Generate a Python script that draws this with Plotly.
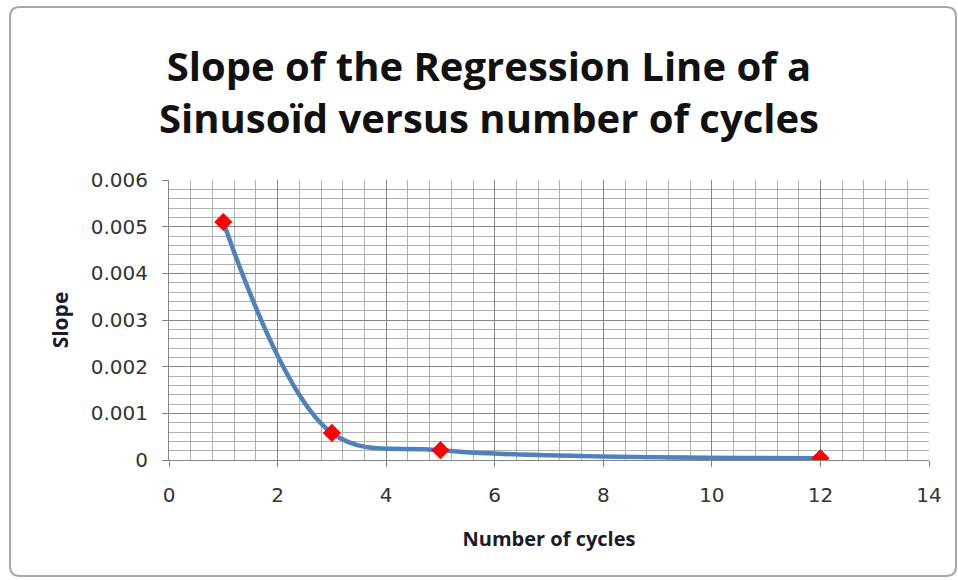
import plotly.graph_objects as go

cycles = [1, 3, 5, 12]
slopes = [0.0051, 0.00058, 0.00021, 0.00004]

title_text = "Slope of the Regression Line of a<br>Sinusoïd versus number of cycles"
x_title = "Number of cycles"
y_title = "Slope"

W, H = 958, 580
L, R, T, B = 169, 29, 180, 120
pw, ph = W - L - R, H - T - B

def px_x(p):
    return (p - L) / pw

def px_y(p):
    return (H - B - p) / ph

fig = go.Figure()
fig.add_trace(go.Scatter(
    x=cycles, y=slopes, mode="lines",
    line=dict(color="#4F81BD", width=4.5, shape="spline", smoothing=1.0),
    hoverinfo="skip", showlegend=False,
))
fig.add_trace(go.Scatter(
    x=cycles, y=slopes, mode="markers",
    marker=dict(symbol="diamond", size=14, color="#FF0000",
                line=dict(width=0)),
    showlegend=False,
))

font_family = "Open Sans, Lato, sans-serif"
tick_family = "DejaVu Sans, Open Sans, sans-serif"

fig.update_layout(
    width=W, height=H,
    margin=dict(l=L, r=R, t=T, b=B),
    paper_bgcolor="white", plot_bgcolor="white",
    title=dict(text=title_text, x=489 / W, xanchor="center",
               y=1 - 81 / H, yanchor="middle",
               font=dict(family=font_family, size=40, color="#111111",
                         weight="bold")),
    font=dict(family=font_family, color="#404040"),
)

fig.update_xaxes(
    range=[0, 14], dtick=2, tick0=0,
    showgrid=True, gridcolor="#858585", gridwidth=1,
    minor=dict(dtick=0.4, tick0=0, showgrid=True, gridcolor="#b0b0b0",
               gridwidth=1, ticks=""),
    showline=True, linecolor="#858585", linewidth=1,
    ticks="outside", ticklen=6, tickcolor="#858585",
    tickfont=dict(family=tick_family, size=20, color="#333333"),
    ticklabelstandoff=11,
    zeroline=False,
    title=dict(text=x_title, standoff=25,
               font=dict(size=20, color="#1a1a2a", weight="bold")),
)
fig.update_yaxes(
    range=[0, 0.006], dtick=0.001, tick0=0,
    tickformat=".3~f",
    showgrid=True, gridcolor="#858585", gridwidth=1,
    minor=dict(dtick=0.0002, tick0=0, showgrid=True, gridcolor="#b0b0b0",
               gridwidth=1, ticks=""),
    showline=True, linecolor="#858585", linewidth=1,
    ticks="outside", ticklen=6, tickcolor="#858585",
    tickfont=dict(family=tick_family, size=20, color="#333333"),
    ticklabelstandoff=10,
    zeroline=False,
    title=dict(text=y_title, standoff=16,
               font=dict(size=21, color="#1a1a2a", weight="bold")),
)

# outer chart border with rounded corners
x0p, x1p, y0p, y1p, r = 10, 956, 7, 576, 10
X = lambda p: f"{px_x(p):.5f}"
Y = lambda p: f"{px_y(p):.5f}"
path = (f"M {X(x0p + r)},{Y(y0p)} L {X(x1p - r)},{Y(y0p)} "
        f"Q {X(x1p)},{Y(y0p)} {X(x1p)},{Y(y0p + r)} "
        f"L {X(x1p)},{Y(y1p - r)} Q {X(x1p)},{Y(y1p)} {X(x1p - r)},{Y(y1p)} "
        f"L {X(x0p + r)},{Y(y1p)} Q {X(x0p)},{Y(y1p)} {X(x0p)},{Y(y1p - r)} "
        f"L {X(x0p)},{Y(y0p + r)} Q {X(x0p)},{Y(y0p)} {X(x0p + r)},{Y(y0p)} Z")
fig.add_shape(type="path", xref="paper", yref="paper", path=path,
              line=dict(color="#a8a8a8", width=2), layer="below")

fig.write_html("out.html",
               config={"displayModeBar": False},
               post_script="document.body.style.margin='0px';")
